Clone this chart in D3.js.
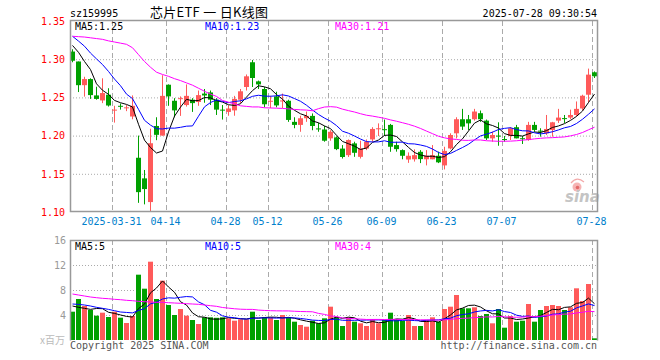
<!DOCTYPE html>
<html><head><meta charset="utf-8">
<script src="https://cdn.jsdelivr.net/npm/d3@7"></script>
<style>body{margin:0;background:#fff}svg{display:block}</style>
</head><body>
<svg id="c" width="660" height="360"></svg>
<script>
// ---------- data ----------
const dates = ["03-20","03-21","03-24","03-25","03-26","03-27","03-28","03-31","04-01","04-02","04-03","04-07","04-08","04-09","04-10","04-11","04-14","04-15","04-16","04-17","04-18","04-21","04-22","04-23","04-24","04-25","04-28","04-29","04-30","05-06","05-07","05-08","05-09","05-12","05-13","05-14","05-15","05-16","05-19","05-20","05-21","05-22","05-23","05-26","05-27","05-28","05-29","05-30","06-03","06-04","06-05","06-06","06-09","06-10","06-11","06-12","06-13","06-16","06-17","06-18","06-19","06-20","06-23","06-24","06-25","06-26","06-27","06-30","07-01","07-02","07-03","07-04","07-07","07-08","07-09","07-10","07-11","07-14","07-15","07-16","07-17","07-18","07-21","07-22","07-23","07-24","07-25","07-28"];
const open = [1.310,1.297,1.266,1.274,1.2526,1.246,1.2535,1.233,1.239,1.236,1.225,1.171,1.144,1.113,1.2126,1.200,1.2666,1.2456,1.248,1.240,1.247,1.244,1.255,1.2565,1.247,1.234,1.231,1.233,1.247,1.2636,1.296,1.271,1.261,1.2455,1.2513,1.2455,1.2456,1.218,1.214,1.2227,1.2258,1.2094,1.208,1.1964,1.1977,1.183,1.1744,1.1898,1.1722,1.183,1.195,1.2094,1.2084,1.214,1.1876,1.181,1.1687,1.169,1.1788,1.169,1.169,1.1736,1.161,1.1832,1.203,1.2214,1.2214,1.2214,1.2293,1.2196,1.1964,1.200,1.1955,1.1995,1.211,1.1966,1.1942,1.214,1.2065,1.203,1.2074,1.2196,1.2229,1.2236,1.227,1.2355,1.2535,1.2829];
const high = [1.313,1.297,1.277,1.275,1.264,1.275,1.262,1.239,1.242,1.240,1.2526,1.200,1.155,1.209,1.224,1.279,1.267,1.249,1.2513,1.267,1.249,1.259,1.261,1.259,1.249,1.240,1.2398,1.252,1.261,1.280,1.299,1.272,1.2636,1.252,1.2574,1.255,1.247,1.224,1.226,1.2315,1.229,1.2166,1.2126,1.207,1.199,1.1876,1.195,1.192,1.1933,1.195,1.211,1.216,1.221,1.2153,1.192,1.182,1.178,1.182,1.181,1.181,1.1876,1.179,1.1854,1.203,1.224,1.235,1.227,1.235,1.2328,1.221,1.2052,1.2174,1.1995,1.211,1.214,1.1995,1.218,1.218,1.2096,1.227,1.218,1.235,1.227,1.234,1.2447,1.2535,1.2877,1.284];
const low = [1.296,1.257,1.251,1.248,1.247,1.2425,1.238,1.217,1.234,1.232,1.2214,1.112,1.110,1.100,1.194,1.200,1.239,1.224,1.2258,1.238,1.231,1.239,1.243,1.240,1.227,1.221,1.226,1.226,1.2425,1.259,1.2636,1.261,1.237,1.236,1.237,1.236,1.218,1.2096,1.205,1.218,1.207,1.205,1.192,1.1933,1.181,1.170,1.172,1.1722,1.170,1.181,1.192,1.1995,1.1995,1.1788,1.179,1.169,1.1643,1.166,1.164,1.161,1.169,1.164,1.1557,1.182,1.1964,1.2074,1.2074,1.2196,1.218,1.1942,1.192,1.1867,1.192,1.1942,1.1964,1.189,1.1933,1.205,1.1986,1.2008,1.1986,1.2166,1.2166,1.2214,1.225,1.2328,1.2434,1.2754];
const close = [1.298,1.266,1.274,1.253,1.248,1.2557,1.2394,1.234,1.238,1.237,1.239,1.126,1.130,1.190,1.201,1.252,1.2513,1.233,1.249,1.252,1.2425,1.253,1.2525,1.247,1.234,1.233,1.2355,1.248,1.258,1.2776,1.2754,1.267,1.241,1.2456,1.2395,1.246,1.2205,1.214,1.2227,1.2258,1.2126,1.209,1.1933,1.205,1.1823,1.172,1.1942,1.1775,1.1832,1.192,1.2087,1.2096,1.208,1.1854,1.1823,1.1736,1.1736,1.1744,1.1692,1.1736,1.1744,1.165,1.180,1.2008,1.2214,1.2118,1.216,1.2315,1.2214,1.1964,1.2008,1.1995,1.195,1.2096,1.1964,1.1964,1.214,1.2074,1.206,1.2087,1.2174,1.2236,1.2227,1.227,1.235,1.2522,1.2798,1.2776];
const volume = [4.53,6.56,5.44,4.8,3.89,4.37,3.68,4.53,3.57,2.72,3.84,10.45,8.21,12.53,6.56,9.49,5.6,4.0,4.96,3.89,3.2,2.56,3.63,3.63,3.55,3.63,3.47,3.09,3.31,3.31,4.53,3.2,3.63,3.63,3.2,4.0,3.63,2.93,2.4,2.13,3.09,2.67,3.47,5.33,3.63,2.24,3.63,2.93,2.67,2.24,3.31,2.67,3.2,4.37,3.31,3.09,4.0,2.24,2.24,3.2,3.63,2.93,4.96,5.33,7.2,5.07,5.07,5.23,3.84,4.16,2.67,4.96,1.97,3.84,2.93,3.09,5.76,2.93,4.8,5.44,5.6,5.44,4.8,5.23,8.27,6.24,8.96,0.27];

// moving-average values before the window is complete
const priceMa5Lead = [1.318,1.309,1.297,1.2864];
const priceMa10Lead = [1.330,1.3237,1.317,1.308,1.3004,1.293,1.284,1.274,1.2653];
const priceMa30Lead = [1.330,1.3295,1.329,1.328,1.327,1.326,1.324,1.3225,1.321,1.3195,1.315,1.306,1.297,1.2895,1.283,1.280,1.2776,1.2745,1.272,1.269,1.266,1.262,1.258,1.2543,1.2513,1.246,1.2437,1.2415,1.239];
const volMa5Lead = [5.44,5.23,5.07,4.9];
const volMa10Lead = [5.76,5.7,5.6,5.44,5.23,5.07,4.9,4.69,4.48];
const volMa30Lead = [7.36,7.2,7.04,6.88,6.77,6.67,6.61,6.51,6.45,6.35,6.29,6.19,6.13,6.08,6.03,6.03,5.97,5.92,5.87,5.81,5.76,5.71,5.6,5.49,5.39,5.2,5.1,5.0,4.93];

const priceTicks = [1.10,1.15,1.20,1.25,1.30,1.35];
const volTicks = [4,8,12,16];
const xTickDates = ["03-31","04-14","04-28","05-12","05-26","06-09","06-23","07-07","07-28"];
const xTickLabels = ["2025-03-31","04-14","04-28","05-12","05-26","06-09","06-23","07-07","07-28"];

const symbol = "sz159995";
const title = "芯片ETF 一 日K线图";
const stamp = "2025-07-28 09:30:54";
const priceLegend = ["MA5:1.25","MA10:1.23","MA30:1.21"];
const volLegend = ["MA5:5","MA10:5","MA30:4"];

// ---------- drawing ----------
const mono = '"DejaVu Sans Mono", "Liberation Mono", monospace';
const RED = "#ff5a5a", GREEN = "#00a000";
const maColors = ["#000000", "#0000ff", "#ff00ff"];
const svg = d3.select("#c");

const x = d3.scaleBand().domain(dates).range([70, 597]).paddingInner(1/6).paddingOuter(0);
const bw = x.bandwidth();
const cx = d => x(d) + bw / 2;
const y = d3.scaleLinear().domain([1.10, 1.35]).range([212, 21]);
const yv = d3.scaleLinear().domain([0, 16]).range([340, 240]);

function movingAvg(vals, n, lead) {
  return vals.map((v, i) => i < n - 1 ? lead[i] : d3.mean(vals.slice(i - n + 1, i + 1)));
}
const priceMAs = [movingAvg(close, 5, priceMa5Lead), movingAvg(close, 10, priceMa10Lead), movingAvg(close, 30, priceMa30Lead)];
const volMAs = [movingAvg(volume, 5, volMa5Lead), movingAvg(volume, 10, volMa10Lead), movingAvg(volume, 30, volMa30Lead)];

// header texts
svg.append("text").attr("x", 70).attr("y", 16.5).attr("font-family", mono).attr("font-size", 10).attr("fill", "#000").text(symbol);
svg.append("text").attr("x", 150).attr("y", 17).attr("font-family", '"Noto Sans CJK SC", sans-serif').attr("font-size", 13)
  .attr("fill", "#000").attr("textLength", 118).attr("lengthAdjust", "spacing").style("white-space", "pre").text(title);
svg.append("text").attr("x", 597).attr("y", 16.5).attr("text-anchor", "end").attr("font-family", mono).attr("font-size", 10).attr("fill", "#000").text(stamp);

// ---- price panel grid & axis ----
const gy = svg.append("g").attr("transform", "translate(70,0)")
  .call(d3.axisLeft(y).tickValues(priceTicks).tickFormat(d3.format(".2f")).tickSize(-527).tickPadding(5));
gy.select(".domain").remove();
gy.selectAll(".tick line").attr("stroke", "#aaa").attr("stroke-dasharray", "1,2")
  .filter(d => d === 1.10 || d === 1.35).remove();
gy.selectAll(".tick text").attr("fill", "#ff0000").attr("font-family", mono).attr("font-size", 10);

// vertical dashed grid (both panels)
[[21, 212], [240, 340]].forEach(([t, b]) => {
  svg.append("g").selectAll("line").data(xTickDates).join("line")
    .attr("x1", d => x(d) + 0.5).attr("x2", d => x(d) + 0.5)
    .attr("y1", t).attr("y2", b)
    .attr("stroke", "#aaa").attr("stroke-dasharray", "5,3");
});

// x labels
svg.append("g").selectAll("text").data(xTickDates).join("text")
  .attr("x", d => x(d) - 0.5).attr("y", 225).attr("text-anchor", "middle")
  .attr("font-family", mono).attr("font-size", 10).attr("fill", "#0080cc")
  .text((d, i) => xTickLabels[i]);

// watermark
const wm = svg.append("g");
wm.append("circle").attr("cx", 577).attr("cy", 187).attr("r", 4.5).attr("fill", "#f6b4b4");
wm.append("circle").attr("cx", 577.5).attr("cy", 187.5).attr("r", 1.8).attr("fill", "#e36a6a");
wm.append("path").attr("d", "M571,183 Q577,176 584,182").attr("fill", "none").attr("stroke", "#f3a9a9").attr("stroke-width", 1.2);
wm.append("text").attr("x", 565).attr("y", 202).attr("font-family", '"DejaVu Sans", sans-serif')
  .attr("font-weight", "bold").attr("font-style", "italic").attr("font-size", 15).attr("fill", "#c4c4c4").text("sina");

// candles
const idx = d3.range(dates.length);
const cg = svg.append("g");
cg.selectAll("line").data(idx).join("line")
  .attr("x1", i => cx(dates[i])).attr("x2", i => cx(dates[i]))
  .attr("y1", i => y(high[i])).attr("y2", i => y(low[i]))
  .attr("stroke", i => close[i] >= open[i] ? RED : GREEN);
cg.selectAll("rect").data(idx).join("rect")
  .attr("x", i => x(dates[i])).attr("width", bw)
  .attr("y", i => y(Math.max(open[i], close[i])))
  .attr("height", i => Math.max(1, y(Math.min(open[i], close[i])) - y(Math.max(open[i], close[i]))))
  .attr("fill", i => close[i] >= open[i] ? RED : GREEN);

// price MA lines
priceMAs.forEach((arr, k) => {
  svg.append("path").attr("d", d3.line().x((v, i) => cx(dates[i])).y(v => y(v))(arr))
    .attr("fill", "none").attr("stroke", maColors[k]).attr("stroke-width", 1);
});

// price frame
svg.append("rect").attr("x", 70.5).attr("y", 20.5).attr("width", 527).attr("height", 191)
  .attr("fill", "none").attr("stroke", "#999").attr("stroke-width", 1.5);

// price legend
[75, 205, 335].forEach((px, k) => {
  svg.append("text").attr("x", px).attr("y", 29.5).attr("font-family", mono).attr("font-size", 10)
    .attr("fill", maColors[k]).text(priceLegend[k]);
});

// ---- volume panel ----
const gv = svg.append("g").attr("transform", "translate(70,0)")
  .call(d3.axisLeft(yv).tickValues(volTicks).tickSize(-527).tickPadding(4));
gv.select(".domain").remove();
gv.selectAll(".tick line").attr("stroke", "#aaa").attr("stroke-dasharray", "1,2")
  .filter(d => d === 16).remove();
gv.selectAll(".tick text").attr("fill", "#999").attr("font-family", mono).attr("font-size", 10);

svg.append("g").selectAll("rect").data(idx).join("rect")
  .attr("x", i => x(dates[i])).attr("width", bw)
  .attr("y", i => yv(volume[i])).attr("height", i => yv(0) - yv(volume[i]))
  .attr("fill", i => close[i] >= open[i] ? RED : GREEN);

volMAs.forEach((arr, k) => {
  svg.append("path").attr("d", d3.line().x((v, i) => cx(dates[i])).y(v => yv(v))(arr))
    .attr("fill", "none").attr("stroke", maColors[k]).attr("stroke-width", 1);
});

svg.append("path").attr("d", "M70.5,340.5 V240.5 H597.5 V340.5")
  .attr("fill", "none").attr("stroke", "#999").attr("stroke-width", 1.5);

[75, 205, 335].forEach((px, k) => {
  svg.append("text").attr("x", px).attr("y", 250).attr("font-family", mono).attr("font-size", 10)
    .attr("fill", maColors[k]).text(volLegend[k]);
});

svg.append("text").attr("x", 65).attr("y", 344).attr("text-anchor", "end")
  .attr("font-family", '"Noto Sans CJK SC", sans-serif').attr("font-size", 10).attr("fill", "#bbb").text("x百万");

// footer
svg.append("text").attr("x", 70).attr("y", 348.5).attr("font-family", mono).attr("font-size", 10).attr("fill", "#555").text("Copyright 2025 SINA.COM");
svg.append("text").attr("x", 597).attr("y", 348.5).attr("text-anchor", "end").attr("font-family", mono).attr("font-size", 10).attr("fill", "#555").text("http://finance.sina.com.cn");
</script>
</body></html>
